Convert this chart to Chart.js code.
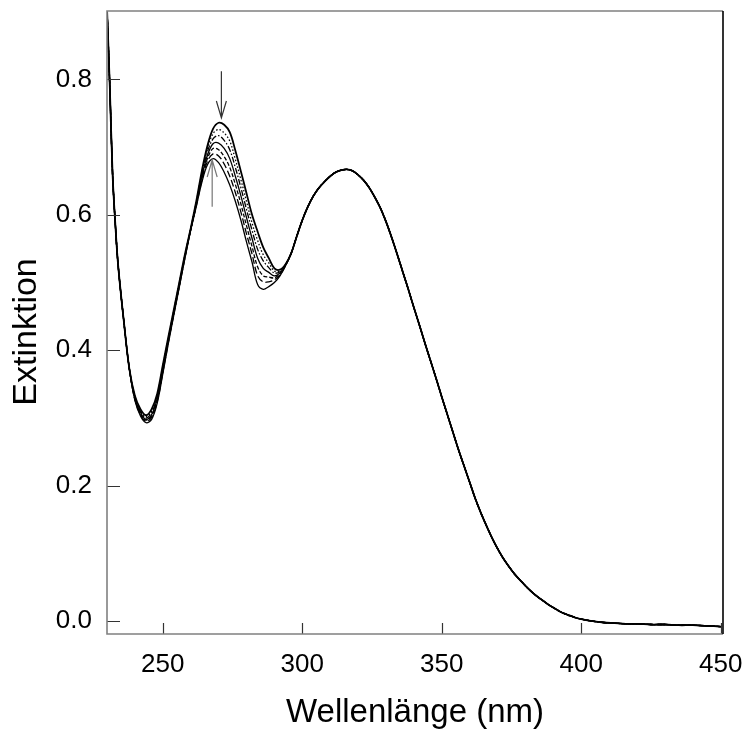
<!DOCTYPE html>
<html>
<head>
<meta charset="utf-8">
<script src="https://cdn.jsdelivr.net/npm/chart.js@4.4.1/dist/chart.umd.min.js"></script>
<style>
  html, body { margin:0; padding:0; background:#fff; }
  canvas { display:block; }
</style>
</head>
<body>
<canvas id="spectra" width="746" height="729"></canvas>
<script>
// wavelengths (nm)
const headWl = [230, 231, 232, 233, 234, 236, 238];
const midWl = [240, 242, 244, 246, 248, 250, 252, 254, 256, 258, 260, 262, 264, 266, 268,
  270, 272, 274, 276, 278, 280, 282, 284, 286, 288, 290, 292, 294, 296];
const tailWl = [298, 300, 302, 304, 306, 308, 310, 312, 314, 316, 318, 320, 322, 324, 326, 328,
  330, 332, 334, 336, 338, 340, 342, 344, 346, 348, 350, 352, 354, 356, 358, 360, 362, 364, 366,
  368, 370, 372, 374, 376, 378, 380, 382, 384, 386, 388, 390, 392, 394, 396, 398, 400, 404, 408,
  412, 416, 420, 425, 430, 435, 440, 445, 450];

// absorbance shared by all spectra at the short and long wavelength ends
const headAbs = [0.905, 0.79, 0.66, 0.585, 0.525, 0.444, 0.373];
const tailAbs = [0.568, 0.592, 0.612, 0.628, 0.640, 0.649, 0.657, 0.663, 0.666, 0.667, 0.665,
  0.659, 0.651, 0.640, 0.626, 0.610, 0.590, 0.567, 0.542, 0.516, 0.490, 0.463, 0.437, 0.410,
  0.384, 0.358, 0.331, 0.305, 0.279, 0.253, 0.229, 0.205, 0.181, 0.160, 0.141, 0.123, 0.107,
  0.093, 0.081, 0.070, 0.061, 0.052, 0.044, 0.037, 0.031, 0.025, 0.020, 0.015, 0.011, 0.008,
  0.005, 0.003, 0.000, -0.002, -0.003, -0.004, -0.004, -0.005, -0.005, -0.006, -0.006, -0.007, -0.008];

// the seven spectra differ between 240 and 296 nm
const spectrum1 = [0.333, 0.313, 0.304, 0.313, 0.336, 0.378, 0.420, 0.461, 0.502, 0.543, 0.580,
  0.620, 0.665, 0.702, 0.727, 0.736, 0.733, 0.722, 0.695, 0.664, 0.632, 0.600, 0.575, 0.552,
  0.536, 0.521, 0.519, 0.527, 0.543];
const spectrum2 = [0.332, 0.311, 0.302, 0.310, 0.334, 0.376, 0.418, 0.460, 0.501, 0.542, 0.580,
  0.619, 0.662, 0.697, 0.720, 0.726, 0.721, 0.709, 0.682, 0.652, 0.620, 0.588, 0.562, 0.541,
  0.529, 0.517, 0.517, 0.527, 0.543];
const spectrum3 = [0.331, 0.310, 0.300, 0.308, 0.331, 0.374, 0.417, 0.458, 0.500, 0.541, 0.579,
  0.617, 0.659, 0.693, 0.712, 0.717, 0.710, 0.696, 0.670, 0.640, 0.608, 0.577, 0.549, 0.532,
  0.522, 0.514, 0.516, 0.526, 0.543];
const spectrum4 = [0.330, 0.308, 0.298, 0.305, 0.329, 0.371, 0.415, 0.457, 0.498, 0.540, 0.578,
  0.616, 0.656, 0.688, 0.705, 0.706, 0.698, 0.683, 0.657, 0.628, 0.596, 0.565, 0.536, 0.521,
  0.515, 0.510, 0.514, 0.526, 0.543];
const spectrum5 = [0.328, 0.306, 0.297, 0.303, 0.327, 0.369, 0.413, 0.456, 0.497, 0.539, 0.578,
  0.615, 0.654, 0.683, 0.698, 0.696, 0.686, 0.670, 0.645, 0.616, 0.584, 0.553, 0.523, 0.510,
  0.508, 0.507, 0.513, 0.526, 0.543];
const spectrum6 = [0.327, 0.305, 0.295, 0.301, 0.324, 0.367, 0.412, 0.454, 0.496, 0.538, 0.578,
  0.613, 0.651, 0.679, 0.690, 0.687, 0.675, 0.657, 0.633, 0.604, 0.572, 0.542, 0.510, 0.501,
  0.501, 0.504, 0.511, 0.525, 0.543];
const spectrum7 = [0.326, 0.303, 0.293, 0.298, 0.322, 0.365, 0.410, 0.453, 0.495, 0.537, 0.577,
  0.612, 0.648, 0.674, 0.683, 0.677, 0.663, 0.644, 0.620, 0.592, 0.560, 0.530, 0.497, 0.490,
  0.494, 0.500, 0.510, 0.525, 0.543];

const spectra = [spectrum1, spectrum2, spectrum3, spectrum4, spectrum5, spectrum6, spectrum7];
const dashes = [[], [1.5, 2], [6, 2, 1.5, 2], [], [4, 2], [7, 3], []];

// arrows: [wavelength, tail absorbance, head absorbance]
const arrowDown = [271, 0.812, 0.743];
const arrowUp = [267.7, 0.612, 0.681];

const xTicks = [250, 300, 350, 400, 450];
const yTicks = [0.0, 0.2, 0.4, 0.6, 0.8];

const FONT = 'Liberation Sans, Arial, sans-serif';

function points(mid){
  const wl = headWl.concat(midWl, tailWl);
  const abs = headAbs.concat(mid, tailAbs);
  return wl.map((x, i) => ({ x, y: abs[i] }));
}

function noPad(s){ s.paddingLeft = s.paddingRight = s.paddingTop = s.paddingBottom = 0; }

const frame = {
  id: 'frame',
  afterDraw(chart){
    const { ctx, chartArea: a, scales: { x, y } } = chart;
    ctx.save();
    // inward ticks
    ctx.strokeStyle = '#333';
    ctx.lineWidth = 1.2;
    ctx.beginPath();
    xTicks.forEach(v => {
      const px = Math.round(x.getPixelForValue(v)) + 0.5;
      ctx.moveTo(px, a.bottom); ctx.lineTo(px, a.bottom - 11);
    });
    yTicks.forEach(v => {
      const py = Math.round(y.getPixelForValue(v)) + 0.5;
      ctx.moveTo(a.left, py); ctx.lineTo(a.left + 13, py);
    });
    ctx.stroke();
    // frame
    ctx.lineWidth = 1.6;
    ctx.strokeStyle = '#808080';
    ctx.beginPath();
    ctx.moveTo(a.right, a.top); ctx.lineTo(a.left, a.top);
    ctx.lineTo(a.left, a.bottom); ctx.lineTo(a.right, a.bottom);
    ctx.stroke();
    ctx.strokeStyle = '#000';
    ctx.beginPath();
    ctx.moveTo(a.right, a.top); ctx.lineTo(a.right, a.bottom);
    ctx.stroke();
    // arrows
    [[arrowDown, '#333'], [arrowUp, '#777']].forEach(([ar, col]) => {
      const px = x.getPixelForValue(ar[0]);
      const y0 = y.getPixelForValue(ar[1]);
      const y1 = y.getPixelForValue(ar[2]);
      const dir = Math.sign(y1 - y0);
      ctx.strokeStyle = col;
      ctx.lineWidth = 1.2;
      ctx.beginPath();
      ctx.moveTo(px, y0); ctx.lineTo(px, y1);
      ctx.moveTo(px - 5, y1 - dir * 17); ctx.lineTo(px, y1); ctx.lineTo(px + 5, y1 - dir * 17);
      ctx.stroke();
    });
    ctx.restore();
  }
};

new Chart(document.getElementById('spectra'), {
  type: 'line',
  data: {
    datasets: spectra.map((s, i) => ({
      data: points(s),
      borderColor: '#000',
      borderWidth: i === 0 ? 1.8 : 1.3,
      borderDash: dashes[i],
      pointRadius: 0,
      tension: 0.35,
      fill: false
    }))
  },
  options: {
    responsive: false,
    animation: false,
    layout: { padding: { top: 11, right: 23, left: 0, bottom: 0 } },
    plugins: { legend: { display: false }, tooltip: { enabled: false } },
    scales: {
      x: {
        type: 'linear',
        min: 230,
        max: 450.8,
        afterBuildTicks: s => { s.ticks = xTicks.map(v => ({ value: v })); },
        afterFit: s => { s.height = 95; noPad(s); },
        grid: { display: false },
        border: { display: false },
        ticks: { color: '#000', padding: 7, maxRotation: 0, font: { family: FONT, size: 26 } },
        title: { display: true, text: 'Wellenlänge (nm)', color: '#000', padding: { top: 0, bottom: 0 },
          font: { family: FONT, size: 33, lineHeight: 1 } }
      },
      y: {
        min: -0.019,
        max: 0.901,
        afterBuildTicks: s => { s.ticks = yTicks.map(v => ({ value: v })); },
        afterFit: s => { s.width = 107; noPad(s); },
        grid: { display: false },
        border: { display: false },
        ticks: { color: '#000', padding: 7, callback: v => v.toFixed(1), font: { family: FONT, size: 26 } },
        // trailing spaces push the rotated title a little below the axis middle, as in the original
        title: { display: true, text: 'Extinktion  ', color: '#000', padding: { top: 6, bottom: 0 },
          font: { family: FONT, size: 34 } }
      }
    }
  },
  plugins: [frame]
});
</script>
</body>
</html>
